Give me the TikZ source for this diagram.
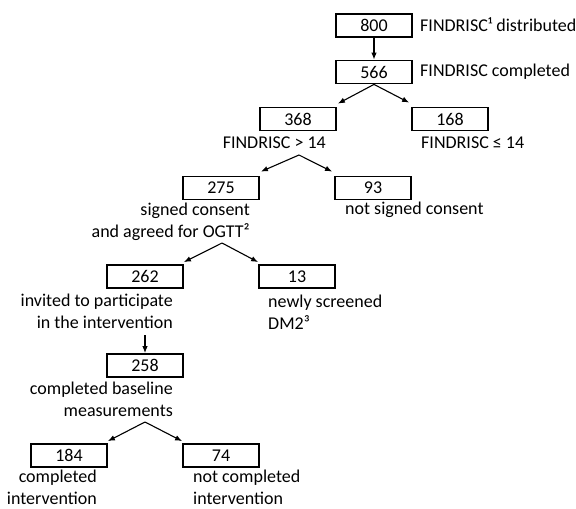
\documentclass[tikz,border=0pt]{standalone}
\usepackage{fontspec}
\setmainfont{Carlito}
\usetikzlibrary{arrows.meta,calc}
\begin{document}
\begin{tikzpicture}[x=1pt,y=-1pt,
  box/.style={draw, line width=1.8pt, minimum width=76pt, minimum height=23pt, inner sep=0pt},
  lbl/.style={inner sep=0pt},
  arr/.style={-{Latex[length=7pt,width=5.5pt]}, line width=1.1pt},
  font=\fontsize{18}{22}\selectfont]
\fill[white] (0,0) rectangle (576,509);
\useasboundingbox (0,0) rectangle (576,509);
% boxes
\node[box] (b800) at (374,25.5) {800};
\node[box] (b566) at (374,72) {566};
\node[box] (b368) at (298,119) {368};
\node[box] (b168) at (450,119) {168};
\node[box] (b275) at (221,188) {275};
\node[box] (b93) at (373,188) {93};
\node[box] (b262) at (145,276.5) {262};
\node[box] (b13) at (297,276.5) {13};
\node[box] (b258) at (145,365.5) {258};
\node[box] (b184) at (69,455.5) {184};
\node[box] (b74) at (221,455.5) {74};
% labels
\node[lbl, anchor=west] (l800) at (420,25) {FINDRISC¹ distributed};
\node[lbl, anchor=west] (l566) at (420,72) {FINDRISC completed};
\node[lbl, anchor=east] (l368) at (326,143) {FINDRISC > 14};
\node[lbl, anchor=west] (l168) at (421,143) {FINDRISC ≤ 14};
\node[lbl, align=right, anchor=north east] (l275) at (250,203) {signed consent\\and agreed for OGTT²};
\node[lbl, anchor=west] (l93) at (345,210) {not signed consent};
\node[lbl, align=right, anchor=north east] (l262) at (173,294) {invited to participate\\in the intervention};
\node[lbl, align=left, anchor=north west] (l13) at (268,295) {newly screened\\DM2³};
\node[lbl, align=right, anchor=north east] (l258) at (173,382) {completed baseline\\measurements};
\node[lbl, align=right, anchor=north east] (l184) at (97,470) {completed\\intervention};
\node[lbl, align=left, anchor=north west] (l74) at (193,470) {not completed\\intervention};
% branch points
\coordinate (a3) at (299,155);
\coordinate (a4) at (222,243);
\coordinate (a5) at (145,335);
\coordinate (a6) at (145,422);
% connectors
\draw[arr] (b800) -- (b566);
\draw[arr] (b566.south) -- ($(b368.north east)+(1,-3)$);
\draw[arr] (b566.south) -- ($(b168.north west)+(-2,-4)$);
\draw[arr] (a3) -- ($(b275.north east)+(1,-4)$);
\draw[arr] (a3) -- ($(b93.north west)+(-2,-4)$);
\draw[arr] (a4) -- ($(b262.north east)+(0,-2)$);
\draw[arr] (a4) -- ($(b13.north west)+(0,-2)$);
\draw[arr] (a5) -- (b258);
\draw[arr] (a6) -- ($(b184.north east)+(0,-2)$);
\draw[arr] (a6) -- ($(b74.north west)+(0,-2)$);
\end{tikzpicture}
\end{document}
